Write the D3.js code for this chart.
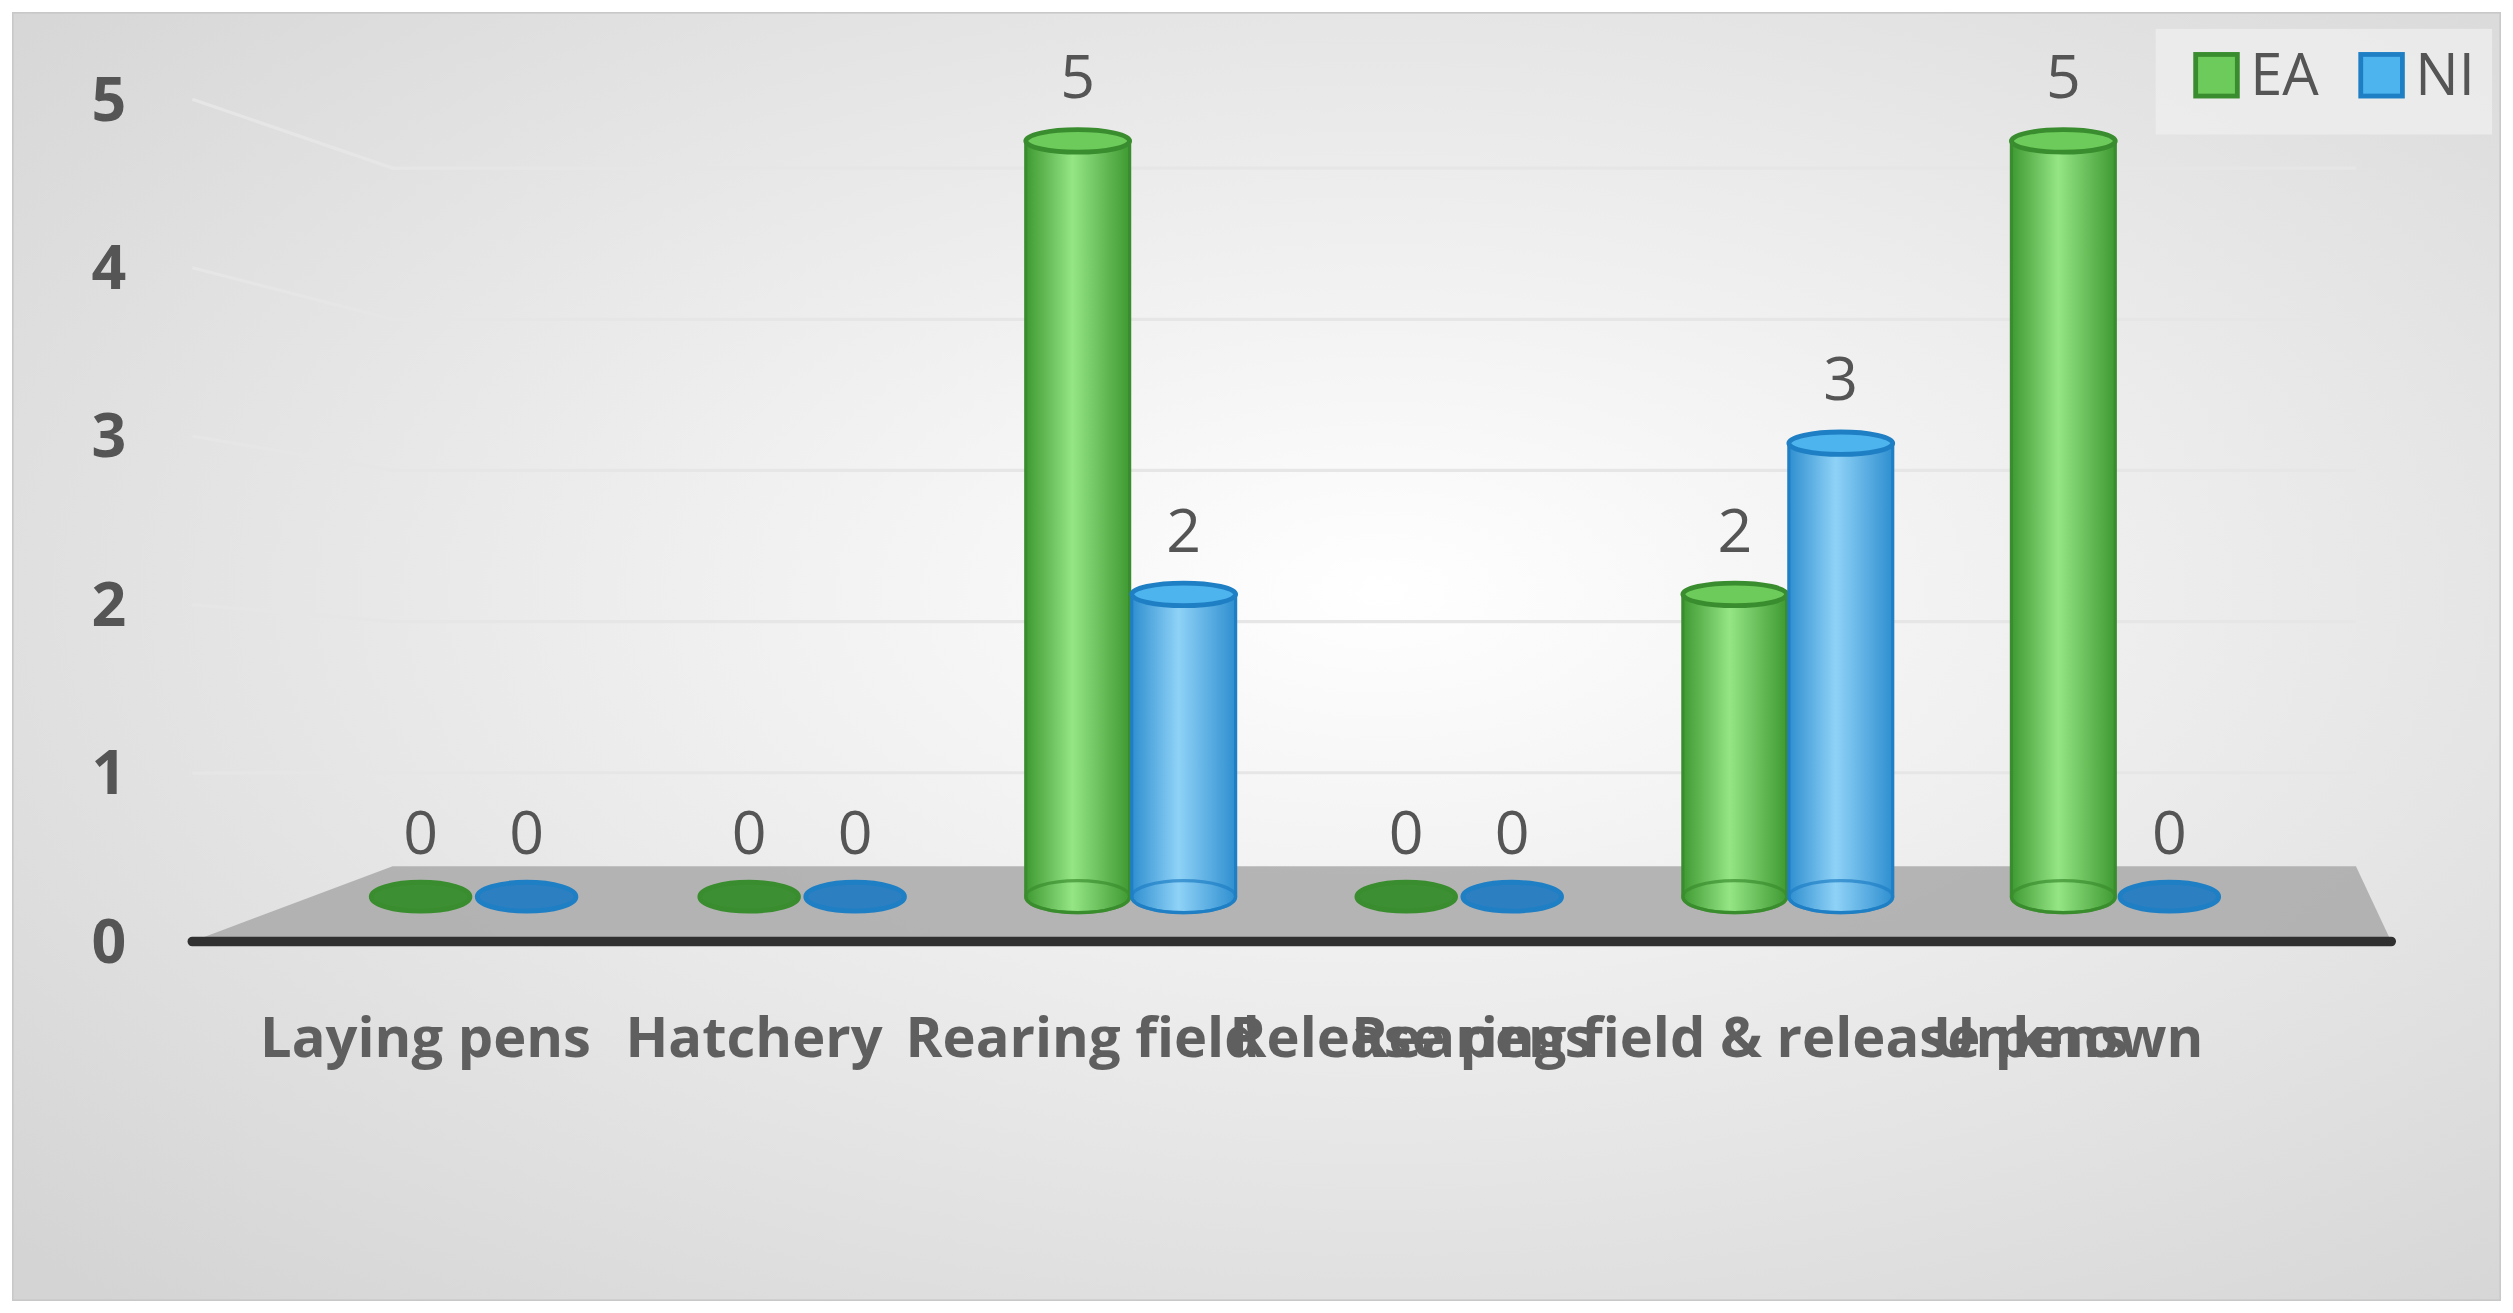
<!DOCTYPE html>
<html><head><meta charset="utf-8">
<script src="https://cdn.jsdelivr.net/npm/d3@7"></script>
<style>body{margin:0;background:#fff}</style>
</head><body>
<svg id="chart"></svg>
<script>
const categories = ["Laying pens", "Hatchery", "Rearing field", "Release pens", "Rearing field & release pens", "Unknown"];
const seriesNames = ["EA", "NI"];
const eaValues = [0, 0, 5, 0, 2, 5];
const niValues = [0, 0, 2, 0, 3, 0];
const yTicks = [0, 1, 2, 3, 4, 5];

const W = 1568, H = 820;
const svg = d3.select("#chart").attr("width", 2513).attr("height", 1313)
    .attr("viewBox", `0 0 ${W} ${H}`).attr("preserveAspectRatio", "none");
const defs = svg.append("defs");

const bg = defs.append("radialGradient").attr("id", "bg").attr("cx", "55%").attr("cy", "45%").attr("r", "75%");
bg.append("stop").attr("offset", "0%").attr("stop-color", "#ffffff");
bg.append("stop").attr("offset", "100%").attr("stop-color", "#d4d4d4");

function cyl(id, dark, light) {
    const g = defs.append("linearGradient").attr("id", id);
    g.append("stop").attr("offset", "0%").attr("stop-color", dark);
    g.append("stop").attr("offset", "45%").attr("stop-color", light);
    g.append("stop").attr("offset", "100%").attr("stop-color", dark);
}
cyl("gEA", "#3f9a32", "#95e585");
cyl("gNI", "#2f8fd0", "#8fd2f7");
const colors = {EA: {fill: "url(#gEA)", top: "#6ccb5a", stroke: "#3a8d2e", flat: "#3d8f33"},
                NI: {fill: "url(#gNI)", top: "#4db4ee", stroke: "#1f7fc4", flat: "#2c7fc0"}};

svg.append("rect").attr("x", 8).attr("y", 8).attr("width", W - 16).attr("height", H - 16)
    .attr("fill", "url(#bg)").attr("stroke", "#c8c8c8");

const x = d3.scaleBand().domain(categories).range([193, 1423]).paddingInner(0).paddingOuter(0);
const xs = d3.scaleBand().domain(seriesNames).range([0, x.bandwidth()]).paddingInner(0).paddingOuter(0.55);
const yv = d3.scaleLinear().domain([0, 5]).range([560, 88]);
const ya = d3.scaleLinear().domain([0, 5]).range([588, 62]);

// perspective gridlines
const grid = svg.append("g");
yTicks.slice(1).forEach(t => {
    const yy = yv(t) + 17;
    grid.append("path").attr("d", `M120,${ya(t)} L245,${yy} L1470,${yy}`)
        .attr("fill", "none").attr("stroke", "#e6e6e6").attr("stroke-width", 2);
});

// floor
svg.append("path").attr("d", "M120,588 L245,541 L1470,541 L1492,588 Z").attr("fill", "#a9a9a9").attr("opacity", 0.85);
svg.append("line").attr("x1", 120).attr("x2", 1492).attr("y1", 588).attr("y2", 588)
    .attr("stroke", "#303030").attr("stroke-width", 6).attr("stroke-linecap", "round");

// y axis labels
svg.append("g").selectAll("text").data(yTicks).join("text")
    .attr("x", 68).attr("y", d => ya(d)).attr("dy", "0.35em").attr("text-anchor", "middle")
    .attr("font-family", "Open Sans, sans-serif").attr("font-weight", "bold").attr("font-size", 38)
    .attr("fill", "#555").text(d => d);

const rows = [];
categories.forEach((c, i) => {
    rows.push({c, s: "EA", v: eaValues[i]});
    rows.push({c, s: "NI", v: niValues[i]});
});
const bw = xs.bandwidth() * 0.98;
const bars = svg.append("g").selectAll("g").data(rows).join("g")
    .attr("transform", d => `translate(${x(d.c) + xs(d.s) + xs.bandwidth() / 2},0)`);
bars.each(function (d) {
    const g = d3.select(this), col = colors[d.s], y0 = yv(0), y1 = yv(d.v), rx = bw / 2;
    if (d.v === 0) {
        g.append("ellipse").attr("cx", 0).attr("cy", y0).attr("rx", rx * 0.95).attr("ry", 9)
            .attr("fill", col.flat).attr("stroke", col.stroke).attr("stroke-width", 3);
        return;
    }
    g.append("path").attr("d", `M${-rx},${y1} L${-rx},${y0} A${rx},10 0 0 0 ${rx},${y0} L${rx},${y1} Z`)
        .attr("fill", col.fill).attr("stroke", col.stroke).attr("stroke-width", 2);
    g.append("ellipse").attr("cx", 0).attr("cy", y0).attr("rx", rx).attr("ry", 10)
        .attr("fill", "none").attr("stroke", col.stroke).attr("stroke-width", 2).attr("opacity", 0.7);
    g.append("ellipse").attr("cx", 0).attr("cy", y1).attr("rx", rx).attr("ry", 7)
        .attr("fill", col.top).attr("stroke", col.stroke).attr("stroke-width", 3);
});
bars.append("text").attr("x", 0).attr("y", d => yv(d.v) - 40).attr("text-anchor", "middle")
    .attr("dy", "0.35em").attr("font-family", "Open Sans, sans-serif").attr("font-size", 38)
    .attr("fill", "#555").text(d => d.v);

// category labels
svg.append("g").selectAll("text").data(categories).join("text")
    .attr("x", d => x(d) + x.bandwidth() / 2 - 30).attr("y", 648).attr("dy", "0.35em")
    .attr("text-anchor", "middle").attr("font-family", "Open Sans, sans-serif")
    .attr("font-weight", "bold").attr("font-size", 35).attr("fill", "#5f5f5f").text(d => d);

// legend
const lg = svg.append("g");
lg.append("rect").attr("x", 1345).attr("y", 18).attr("width", 210).attr("height", 66).attr("fill", "#eeeeee").attr("opacity", 0.8);
seriesNames.forEach((s, i) => {
    const lx = 1370 + i * 103;
    lg.append("rect").attr("x", lx).attr("y", 34).attr("width", 26).attr("height", 26)
        .attr("fill", s === "EA" ? colors.EA.top : colors.NI.top).attr("stroke", colors[s].stroke).attr("stroke-width", 3);
    lg.append("text").attr("x", lx + 34).attr("y", 47).attr("dy", "0.35em")
        .attr("font-family", "Open Sans, sans-serif").attr("font-size", 36).attr("fill", "#555").text(s);
});
</script>
</body></html>
